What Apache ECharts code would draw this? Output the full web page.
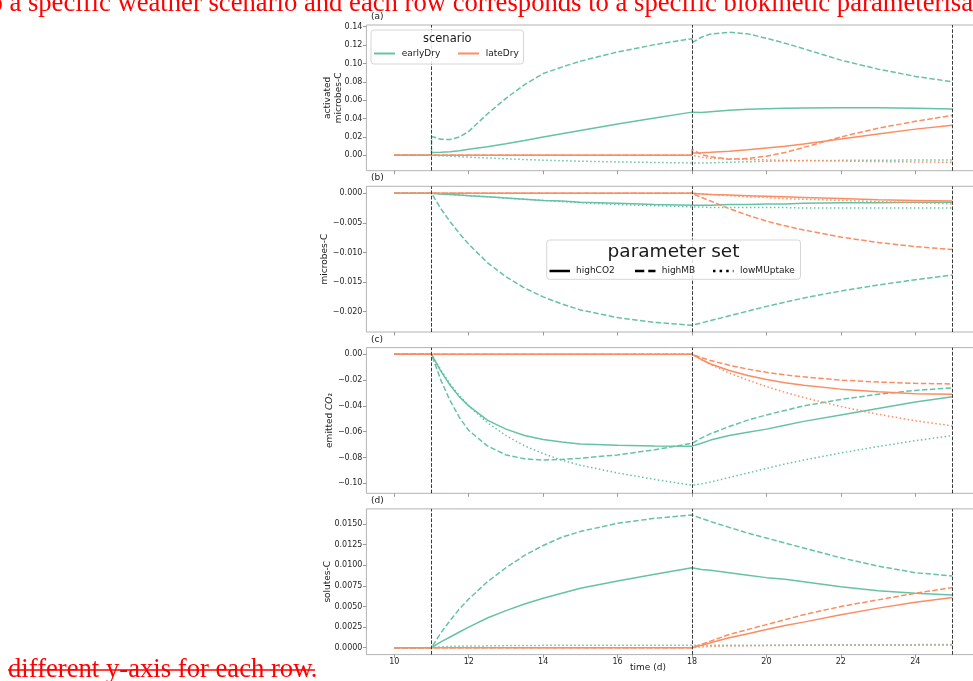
<!DOCTYPE html>
<html>
<head>
<meta charset="utf-8">
<script src="https://cdn.jsdelivr.net/npm/echarts@6/dist/echarts.min.js"></script>
<style>
  html, body { margin: 0; padding: 0; background: #ffffff; }
  #chart { width: 973px; height: 681px; }
</style>
</head>
<body>
<div id="chart"></div>
<script>
// Time grid (days); 11 and 18 appear twice so that jumps at the dry events are drawn vertically
const T = [10, 11, 11, 11.25, 11.5, 11.75, 12, 12.5, 13, 13.5, 14, 14.5, 15, 16, 17, 18, 18, 18.25, 18.5, 19, 19.5, 20, 20.5, 21, 22, 23, 24, 25];

// Dry-event markers
const dryEvents = [11, 18, 25];

// Tick values
const xTicks = [10, 12, 14, 16, 18, 20, 22, 24];
const ticksA = [0, 0.02, 0.04, 0.06, 0.08, 0.10, 0.12, 0.14];
const ticksB = [0, -0.005, -0.010, -0.015, -0.020];
const ticksC = [0, -0.02, -0.04, -0.06, -0.08, -0.10];
const ticksD = [0, 0.0025, 0.0050, 0.0075, 0.0100, 0.0125, 0.0150];

// (a) activated microbes-C
const aEarlyCO2 = [0, 0, 0.003, 0.0033, 0.004, 0.005, 0.0065, 0.0093, 0.0125, 0.016, 0.020, 0.0235, 0.027, 0.034, 0.0405, 0.047, 0.046, 0.0465, 0.0475, 0.049, 0.050, 0.0507, 0.0512, 0.0515, 0.0519, 0.0518, 0.0512, 0.0504];
const aEarlyMB  = [0, 0, 0.0205, 0.0175, 0.0172, 0.020, 0.026, 0.045, 0.062, 0.077, 0.089, 0.096, 0.1025, 0.1125, 0.1205, 0.127, 0.1225, 0.1285, 0.132, 0.1339, 0.1322, 0.1274, 0.122, 0.116, 0.1036, 0.0938, 0.0859, 0.080];
const aEarlyLow = [0, 0, 0, -0.0005, -0.001, -0.0015, -0.002, -0.0029, -0.0038, -0.0046, -0.0053, -0.0059, -0.0064, -0.0072, -0.0078, -0.0083, -0.0083, -0.0085, -0.0082, -0.0076, -0.0070, -0.0065, -0.0061, -0.0058, -0.0055, -0.0053, -0.0052, -0.0051];
const aLateCO2  = [0, 0, 0, 0, 0, 0, 0, 0, 0, 0, 0, 0, 0, 0, 0, 0, 0.0025, 0.0028, 0.0032, 0.0045, 0.006, 0.0079, 0.0098, 0.0122, 0.0178, 0.0232, 0.0285, 0.0328];
const aLateMB   = [0, 0, 0, 0, 0, 0, 0, 0, 0, 0, 0, 0, 0, 0, 0, 0, 0.0065, 0.0008, -0.0015, -0.0042, -0.0035, -0.001, 0.003, 0.0085, 0.020, 0.0295, 0.037, 0.0435];
const aLateLow  = [0, 0, 0, 0, 0, 0, 0, 0, 0, 0, 0, 0, 0, 0, 0, 0, 0, -0.002, -0.0032, -0.004, -0.0045, -0.005, -0.0054, -0.0057, -0.0063, -0.0068, -0.0072, -0.0076];

// (b) microbes-C
const bEarlyCO2 = [0, 0, 0, -0.0001, -0.0002, -0.0003, -0.0004, -0.0006, -0.0008, -0.0010, -0.0012, -0.0013, -0.0015, -0.0017, -0.0019, -0.0020, -0.0020, -0.0020, -0.0020, -0.0019, -0.0019, -0.0018, -0.0018, -0.0017, -0.0016, -0.0016, -0.0015, -0.0015];
const bEarlyMB  = [0, 0, 0, -0.0026, -0.0048, -0.0068, -0.0086, -0.0117, -0.0141, -0.0160, -0.0175, -0.0187, -0.0197, -0.0210, -0.0218, -0.0223, -0.0223, -0.0219, -0.0215, -0.0207, -0.0199, -0.0191, -0.0184, -0.0177, -0.0165, -0.0155, -0.0146, -0.0138];
const bEarlyLow = [0, 0, 0, -0.0001, -0.0002, -0.0003, -0.0004, -0.0006, -0.0008, -0.0010, -0.0012, -0.0014, -0.0016, -0.0019, -0.0021, -0.0023, -0.0023, -0.0023, -0.0024, -0.0024, -0.0024, -0.0024, -0.0024, -0.0025, -0.0025, -0.0025, -0.0025, -0.0025];
const bLateCO2  = [0, 0, 0, 0, 0, 0, 0, 0, 0, 0, 0, 0, 0, 0, 0, 0, 0, -0.0001, -0.0002, -0.0003, -0.0004, -0.0005, -0.0006, -0.0007, -0.0009, -0.0011, -0.0012, -0.0013];
const bLateMB   = [0, 0, 0, 0, 0, 0, 0, 0, 0, 0, 0, 0, 0, 0, 0, 0, 0, -0.0007, -0.0013, -0.0026, -0.0037, -0.0047, -0.0055, -0.0062, -0.0074, -0.0083, -0.0090, -0.0095];
const bLateLow  = [0, 0, 0, 0, 0, 0, 0, 0, 0, 0, 0, 0, 0, 0, 0, 0, 0, -0.0001, -0.0002, -0.0004, -0.0006, -0.0007, -0.0009, -0.0010, -0.0012, -0.0014, -0.0016, -0.0018];

// (c) emitted CO2
const cEarlyCO2 = [0, 0, 0, -0.013, -0.024, -0.033, -0.040, -0.051, -0.058, -0.063, -0.066, -0.068, -0.0695, -0.0705, -0.071, -0.0712, -0.0712, -0.069, -0.0665, -0.063, -0.0605, -0.058, -0.055, -0.052, -0.047, -0.042, -0.037, -0.033];
const cEarlyMB  = [0, 0, 0, -0.020, -0.036, -0.049, -0.059, -0.071, -0.078, -0.081, -0.082, -0.0815, -0.0805, -0.078, -0.074, -0.069, -0.069, -0.065, -0.0615, -0.056, -0.051, -0.047, -0.0435, -0.040, -0.035, -0.031, -0.028, -0.026];
const cEarlyLow = [0, 0, 0, -0.012, -0.023, -0.032, -0.040, -0.053, -0.063, -0.071, -0.077, -0.082, -0.086, -0.092, -0.097, -0.1015, -0.1015, -0.1005, -0.099, -0.0955, -0.092, -0.0885, -0.085, -0.082, -0.0765, -0.0715, -0.067, -0.063];
const cLateCO2  = [0, 0, 0, 0, 0, 0, 0, 0, 0, 0, 0, 0, 0, 0, 0, 0, 0, -0.004, -0.0075, -0.0125, -0.0165, -0.0195, -0.022, -0.024, -0.027, -0.029, -0.0305, -0.031];
const cLateMB   = [0, 0, 0, 0, 0, 0, 0, 0, 0, 0, 0, 0, 0, 0, 0, 0, 0, -0.0025, -0.0048, -0.0085, -0.0115, -0.014, -0.016, -0.0175, -0.020, -0.0215, -0.0225, -0.023];
const cLateLow  = [0, 0, 0, 0, 0, 0, 0, 0, 0, 0, 0, 0, 0, 0, 0, 0, 0, -0.004, -0.0078, -0.0145, -0.020, -0.025, -0.0295, -0.0335, -0.0405, -0.0465, -0.0515, -0.0555];

// (d) solutes-C
const dEarlyCO2 = [0, 0, 0.0001, 0.0007, 0.0013, 0.0019, 0.0025, 0.0036, 0.0045, 0.0053, 0.0060, 0.0066, 0.0072, 0.0081, 0.0089, 0.0097, 0.0097, 0.0095, 0.0094, 0.0091, 0.0088, 0.0085, 0.0083, 0.0080, 0.0074, 0.0069, 0.0066, 0.0064];
const dEarlyMB  = [0, 0, 0.0002, 0.0018, 0.0033, 0.0047, 0.0059, 0.0080, 0.0097, 0.0112, 0.0124, 0.0134, 0.0141, 0.0151, 0.0157, 0.0161, 0.0161, 0.0157, 0.0153, 0.0146, 0.0139, 0.0133, 0.0127, 0.0121, 0.0109, 0.0099, 0.0091, 0.0087];
const dEarlyLow = [0, 0, 0, 0.0001, 0.00015, 0.00018, 0.0002, 0.00022, 0.00025, 0.00027, 0.00028, 0.0003, 0.0003, 0.0003, 0.0003, 0.0003, 0.0003, 0.0003, 0.0003, 0.0003, 0.0003, 0.0003, 0.00032, 0.00033, 0.00035, 0.00036, 0.00037, 0.00038];
const dLateCO2  = [0, 0, 0, 0, 0, 0, 0, 0, 0, 0, 0, 0, 0, 0, 0, 0, 0, 0.0003, 0.0006, 0.0012, 0.0017, 0.0022, 0.0027, 0.0031, 0.0040, 0.0048, 0.0055, 0.0061];
const dLateMB   = [0, 0, 0, 0, 0, 0, 0, 0, 0, 0, 0, 0, 0, 0, 0, 0, 0, 0.0004, 0.0008, 0.0016, 0.0022, 0.0028, 0.0034, 0.0040, 0.0050, 0.0058, 0.0066, 0.0073];
const dLateLow  = [0, 0, 0, 0, 0, 0, 0, 0, 0, 0, 0, 0, 0, 0, 0, 0, 0, 0.0001, 0.00015, 0.0002, 0.00022, 0.00025, 0.00027, 0.0003, 0.0003, 0.0003, 0.0003, 0.0003];

// ---------------------------------------------------------------------------
const COLORS = { earlyDry: '#66c2a5', lateDry: '#fc8d62' };
const DASH = { highCO2: 'solid', highMB: [5.5, 2.4], lowMUptake: [1.5, 2.5] };
const FONT = '"DejaVu Sans", sans-serif';

const panels = [
  { tag: '(a)', name: 'activated\nmicrobes-C', nameX: 333, min: -0.01676, max: 0.14185, ticks: ticksA, dec: 2,
    lines: { earlyDry: { highCO2: aEarlyCO2, highMB: aEarlyMB, lowMUptake: aEarlyLow },
             lateDry:  { highCO2: aLateCO2,  highMB: aLateMB,  lowMUptake: aLateLow } } },
  { tag: '(b)', name: 'microbes-C', nameX: 325, min: -0.02343, max: 0.00118, ticks: ticksB, dec: 3,
    lines: { earlyDry: { highCO2: bEarlyCO2, highMB: bEarlyMB, lowMUptake: bEarlyLow },
             lateDry:  { highCO2: bLateCO2,  highMB: bLateMB,  lowMUptake: bLateLow } } },
  { tag: '(c)', name: 'emitted {i|CO}\u2082', nameX: 330, min: -0.10775, max: 0.00519, ticks: ticksC, dec: 2,
    lines: { earlyDry: { highCO2: cEarlyCO2, highMB: cEarlyMB, lowMUptake: cEarlyLow },
             lateDry:  { highCO2: cLateCO2,  highMB: cLateMB,  lowMUptake: cLateLow } } },
  { tag: '(d)', name: 'solutes-C', nameX: 328, min: -0.00084, max: 0.01684, ticks: ticksD, dec: 4,
    lines: { earlyDry: { highCO2: dEarlyCO2, highMB: dEarlyMB, lowMUptake: dEarlyLow },
             lateDry:  { highCO2: dLateCO2,  highMB: dLateMB,  lowMUptake: dLateLow } } }
];

const PLOT_LEFT = 366.4, PLOT_WIDTH = 614, PANEL_H = 145.7;
const panelTops = [25, 186.3, 347.6, 508.9];

function fmt(dec) {
  return function (v) {
    const s = Math.abs(v).toFixed(dec);
    return (v < -1e-12 ? '\u2212' : '') + s;
  };
}

const grids = [], xAxes = [], yAxes = [], series = [], graphics = [];

panels.forEach(function (p, i) {
  const top = panelTops[i];
  grids.push({ left: PLOT_LEFT, top: top, width: PLOT_WIDTH, height: PANEL_H,
               outerBoundsMode: 'none', containLabel: false,
               show: true, borderColor: '#b3b3b3', borderWidth: 1, backgroundColor: 'transparent' });
  xAxes.push({
    type: 'value', gridIndex: i, min: 9.25, max: 25.75, position: 'bottom',
    axisLine: { show: false, onZero: false },
    axisTick: { show: true, length: 3.5, customValues: xTicks, lineStyle: { color: '#9a9a9a', width: 1 } },
    axisLabel: { show: i === 3, customValues: xTicks, margin: 3.5, fontSize: 8, fontFamily: FONT, color: '#262626' },
    splitLine: { show: false }
  });
  yAxes.push({
    type: 'value', gridIndex: i, min: p.min, max: p.max, position: 'left',
    axisLine: { show: false, onZero: false },
    axisTick: { show: true, length: 3.5, customValues: p.ticks, lineStyle: { color: '#9a9a9a', width: 1 } },
    axisLabel: { customValues: p.ticks, formatter: fmt(p.dec), margin: 4, fontSize: 8, fontFamily: FONT, color: '#262626' },
    splitLine: { show: false }
  });

  let first = true;
  ['earlyDry', 'lateDry'].forEach(function (sc) {
    ['highCO2', 'highMB', 'lowMUptake'].forEach(function (ps) {
      const vals = p.lines[sc][ps];
      const s = {
        type: 'line', name: sc + ' ' + ps, xAxisIndex: i, yAxisIndex: i,
        data: T.map(function (t, k) { return [t, vals[k]]; }),
        showSymbol: false, symbol: 'none', silent: true, animation: false,
        emphasis: { disabled: true },
        lineStyle: { color: COLORS[sc], width: 1.5, type: DASH[ps], cap: 'butt' },
        z: 3
      };
      if (first) {
        s.markLine = {
          symbol: ['none', 'none'], silent: true, animation: false,
          label: { show: false },
          lineStyle: { color: '#3a3a3a', width: 1, type: [3.7, 1.6] },
          data: dryEvents.map(function (x) { return { xAxis: x }; })
        };
        first = false;
      }
      series.push(s);
    });
  });

  // panel tag
  graphics.push({ type: 'text', x: 371, y: top - 8.3, z: 50,
    style: { text: p.tag, font: '9px ' + FONT, fill: '#1a1a1a', align: 'left', textAlign: 'left', verticalAlign: 'middle', textVerticalAlign: 'middle' } });
  // y-axis title (rotated)
  graphics.push({ type: 'text', x: p.nameX, y: top + PANEL_H / 2, rotation: Math.PI / 2, z: 50,
    style: { text: p.name, font: '9px ' + FONT, fill: '#1a1a1a', lineHeight: 10.5,
             align: 'center', textAlign: 'center', verticalAlign: 'middle', textVerticalAlign: 'middle',
             rich: { i: { fontStyle: 'italic', fontSize: 9, fontFamily: FONT, fill: '#1a1a1a' } } } });
});

// shared x-axis title
graphics.push({ type: 'text', x: 648, y: 668, z: 50,
  style: { text: 'time (d)', font: '9px ' + FONT, fill: '#1a1a1a', align: 'center', textAlign: 'center', verticalAlign: 'middle', textVerticalAlign: 'middle' } });

// scenario legend
graphics.push({ type: 'rect', z: 60, shape: { x: 371, y: 30, width: 152.5, height: 34, r: 3 },
  style: { fill: 'rgba(255,255,255,0.85)', stroke: '#d6d6d6', lineWidth: 1 } });
graphics.push({ type: 'text', x: 447.3, y: 39.5, z: 61,
  style: { text: 'scenario', font: '11.5px ' + FONT, fill: '#1a1a1a', align: 'center', textAlign: 'center', verticalAlign: 'middle', textVerticalAlign: 'middle' } });
[['earlyDry', 374, 401.7], ['lateDry', 458, 485.7]].forEach(function (e) {
  graphics.push({ type: 'line', z: 61, shape: { x1: e[1], y1: 53.5, x2: e[1] + 21, y2: 53.5 },
    style: { stroke: COLORS[e[0]], lineWidth: 2 } });
  graphics.push({ type: 'text', x: e[2], y: 53.5, z: 61,
    style: { text: e[0], font: '9px ' + FONT, fill: '#1a1a1a', align: 'left', textAlign: 'left', verticalAlign: 'middle', textVerticalAlign: 'middle' } });
});

// parameter set legend
graphics.push({ type: 'rect', z: 60, shape: { x: 546.7, y: 240, width: 253.8, height: 39.3, r: 3 },
  style: { fill: 'rgba(255,255,255,0.85)', stroke: '#d6d6d6', lineWidth: 1 } });
graphics.push({ type: 'text', x: 673.5, y: 252, z: 61,
  style: { text: 'parameter set', font: '18.5px ' + FONT, fill: '#1a1a1a', align: 'center', textAlign: 'center', verticalAlign: 'middle', textVerticalAlign: 'middle' } });
[['highCO2', 549.5, 576, null], ['highMB', 635, 661.7, [9.25, 4]], ['lowMUptake', 713, 740, [2.5, 4.1]]].forEach(function (e) {
  const st = { stroke: '#000000', lineWidth: 2.5, lineCap: 'butt' };
  if (e[3]) st.lineDash = e[3];
  graphics.push({ type: 'line', z: 61, shape: { x1: e[1], y1: 271, x2: e[1] + 20.5, y2: 271 }, style: st });
  graphics.push({ type: 'text', x: e[2], y: 271, z: 61,
    style: { text: e[0], font: '9px ' + FONT, fill: '#1a1a1a', align: 'left', textAlign: 'left', verticalAlign: 'middle', textVerticalAlign: 'middle' } });
});

// red caption text
graphics.push({ type: 'text', x: -18, y: 3.5, z: 80,
  style: { text: 'to a specific weather scenario and each row corresponds to a specific biokinetic parameterisation',
           font: '26.67px "Liberation Serif", serif', fill: '#ff0000', align: 'left', textAlign: 'left', verticalAlign: 'middle', textVerticalAlign: 'middle' } });
graphics.push({ type: 'text', x: 8, y: 669.5, z: 80,
  style: { text: 'different y-axis for each row.', font: '26.67px "Liberation Serif", serif', fill: '#ff0000',
           align: 'left', textAlign: 'left', verticalAlign: 'middle', textVerticalAlign: 'middle' } });
graphics.push({ type: 'line', z: 81, shape: { x1: 8, y1: 670, x2: 315, y2: 670 },
  style: { stroke: '#ff0000', lineWidth: 1.7 } });

const chart = echarts.init(document.getElementById('chart'), null, { renderer: 'canvas' });
chart.setOption({
  animation: false,
  backgroundColor: '#ffffff',
  grid: grids,
  xAxis: xAxes,
  yAxis: yAxes,
  series: series,
  graphic: { elements: graphics }
});
</script>
</body>
</html>
